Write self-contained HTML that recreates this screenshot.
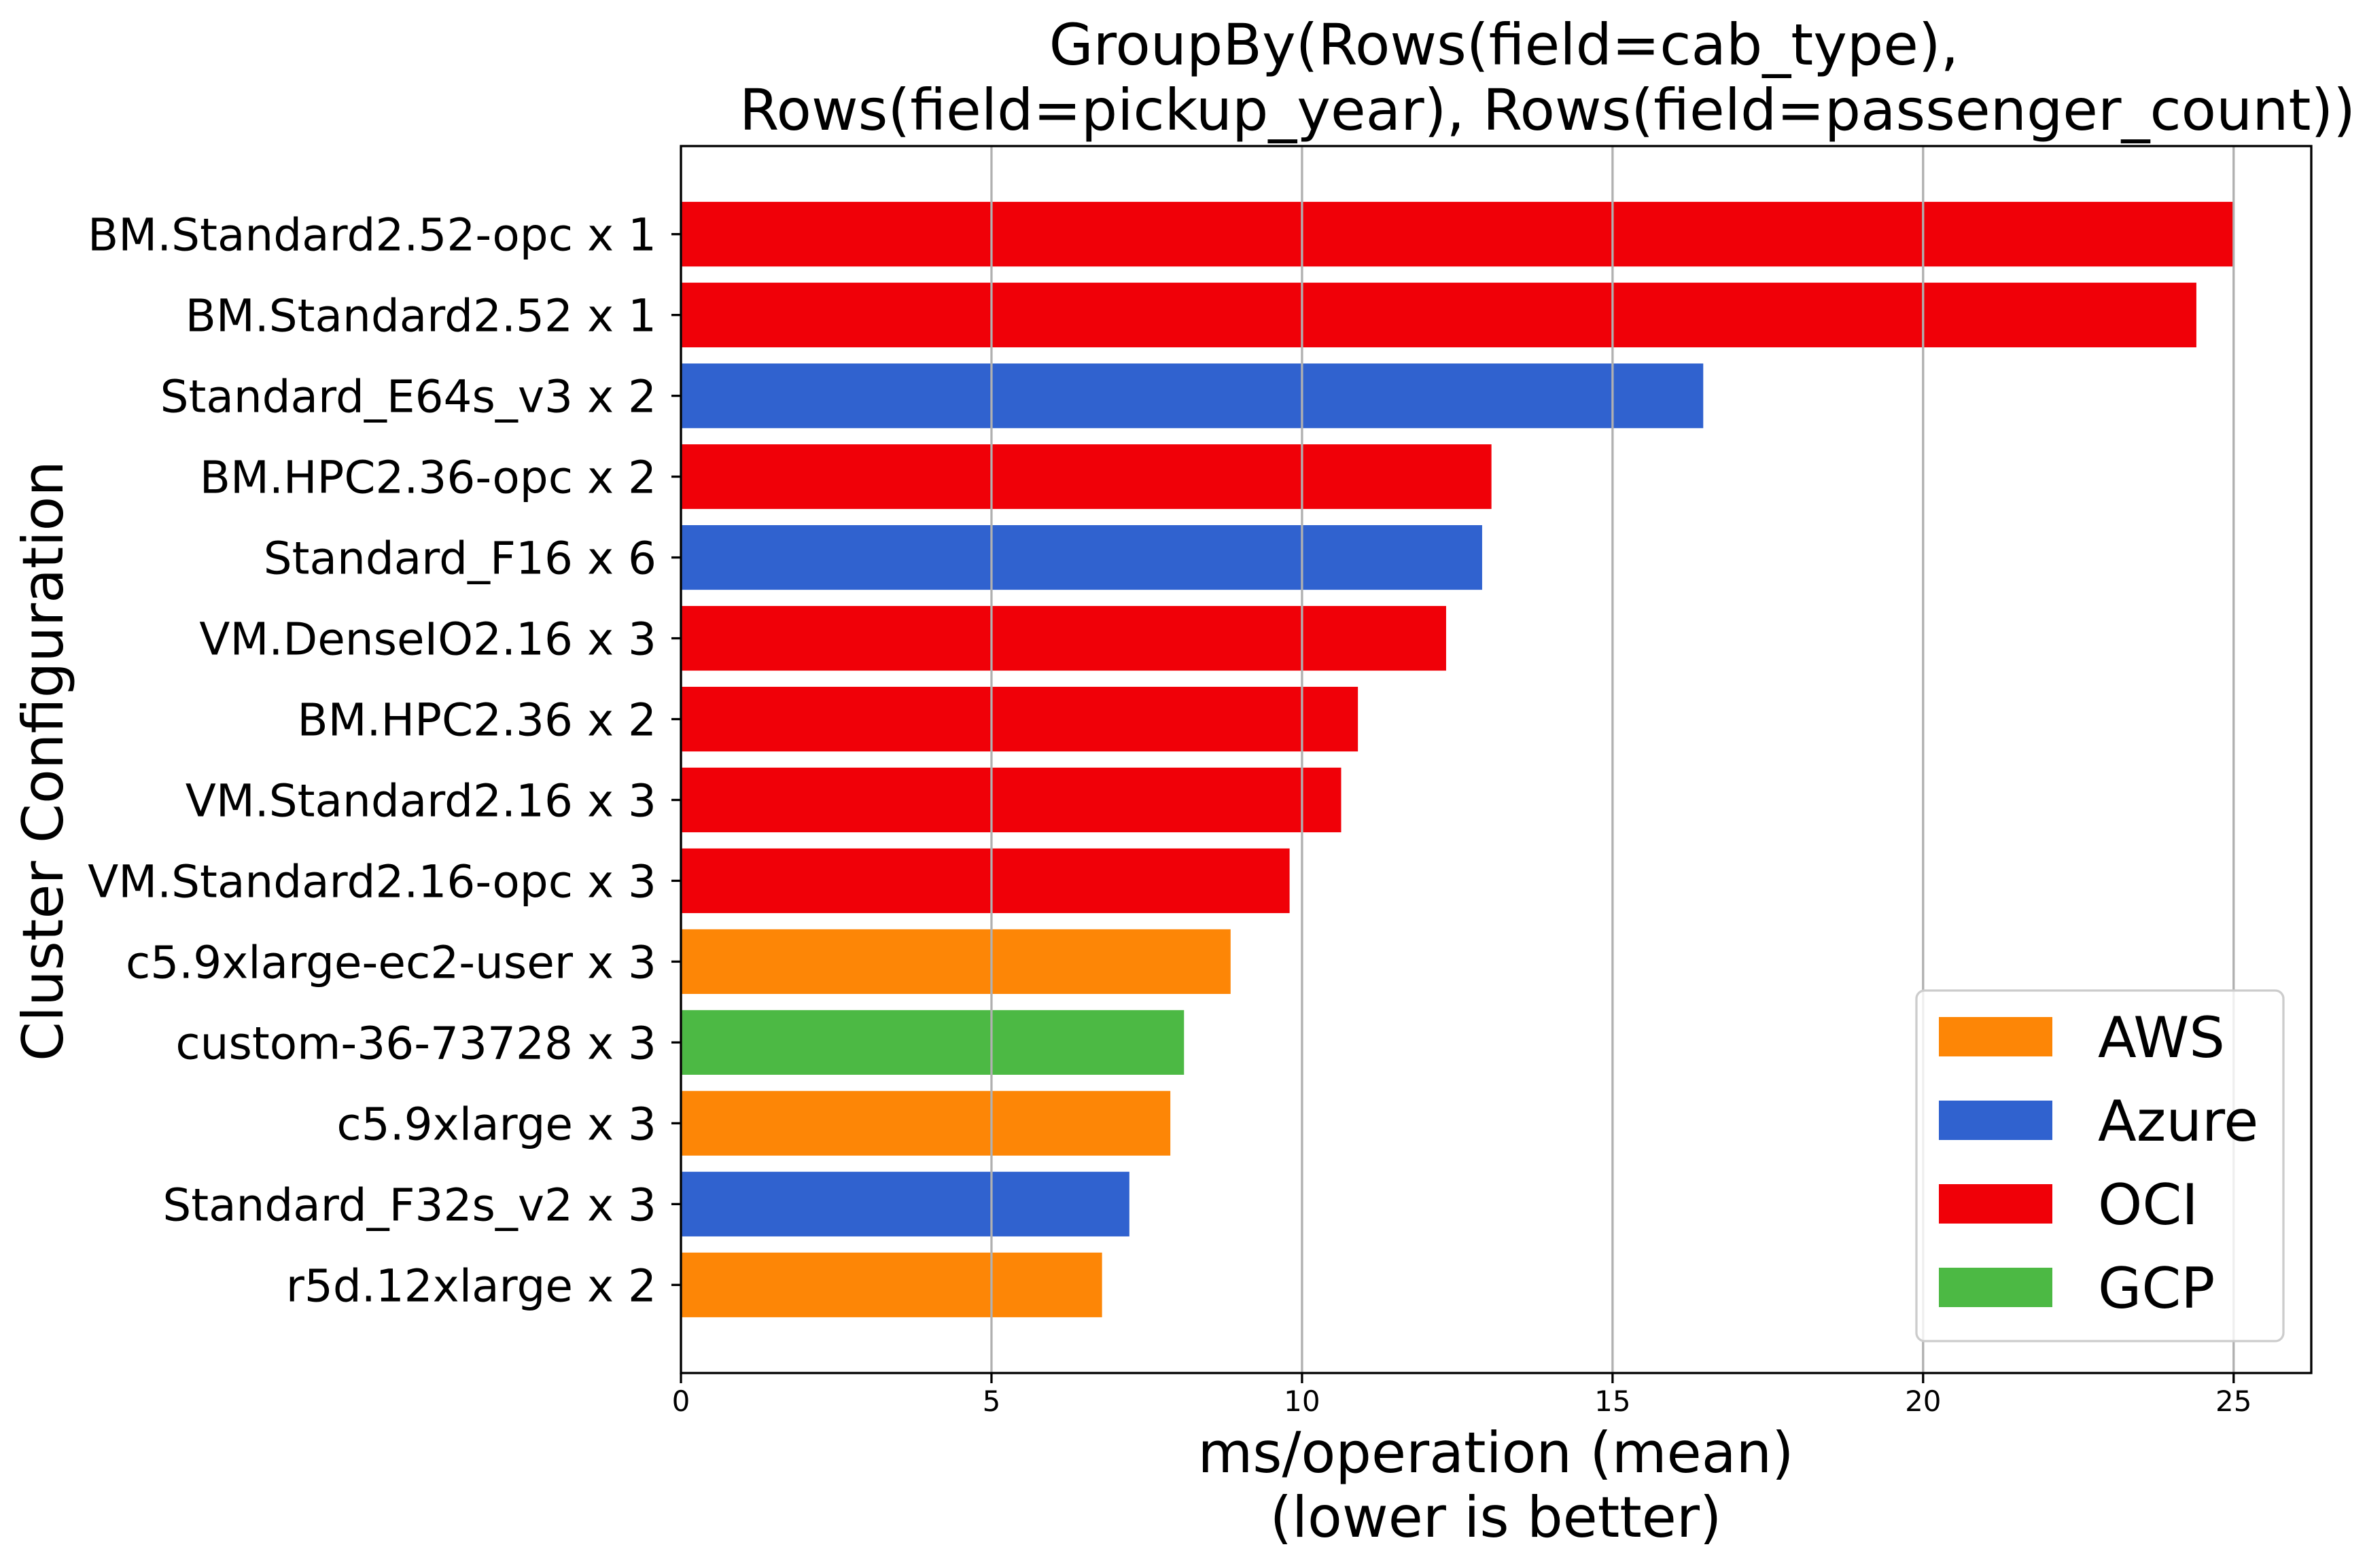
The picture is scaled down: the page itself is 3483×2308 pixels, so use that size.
<!DOCTYPE html>
<html><head><meta charset="utf-8"><style>
html,body{margin:0;padding:0;background:#fff;}
svg{display:block;font-family:"DejaVu Sans","Liberation Sans",sans-serif;}
</style></head><body>
<svg id="chart" width="3483" height="2308" viewBox="0 0 3483 2308" xmlns="http://www.w3.org/2000/svg">
<rect width="3483" height="2308" fill="#fff"/>
<text x="2213" y="95" font-size="84" text-anchor="middle">GroupBy(Rows(field=cab_type),</text>
<text x="2277" y="191" font-size="84" text-anchor="middle">Rows(field=pickup_year), Rows(field=passenger_count))</text>
<g id="grid"></g><g id="bars"></g><g id="gridtop"></g>
<text x="2201" y="2167" font-size="83" text-anchor="middle">ms/operation (mean)</text>
<text x="2201" y="2262" font-size="83" text-anchor="middle">(lower is better)</text>
<text transform="translate(92,1120) rotate(-90)" font-size="83" text-anchor="middle">Cluster Configuration</text>
<g id="axes"></g>
<g id="legend"></g>
</svg>
<script>
const categories = ["BM.Standard2.52-opc x 1","BM.Standard2.52 x 1","Standard_E64s_v3 x 2","BM.HPC2.36-opc x 2","Standard_F16 x 6","VM.DenseIO2.16 x 3","BM.HPC2.36 x 2","VM.Standard2.16 x 3","VM.Standard2.16-opc x 3","c5.9xlarge-ec2-user x 3","custom-36-73728 x 3","c5.9xlarge x 3","Standard_F32s_v2 x 3","r5d.12xlarge x 2"];
const values = [25.0,24.4,16.46,13.05,12.9,12.32,10.9,10.63,9.8,8.85,8.1,7.88,7.22,6.78];
const providers = ["OCI","OCI","Azure","OCI","Azure","OCI","OCI","OCI","OCI","AWS","GCP","AWS","Azure","AWS"];
const xTicks = [0,5,10,15,20,25];
const legendNames = ["AWS","Azure","OCI","GCP"];
const colors = {AWS:"#fd8606",Azure:"#3062cf",OCI:"#f00008",GCP:"#4cb944"};

const NS="http://www.w3.org/2000/svg";
const L=1002,R=3401,T=215,B=2021;
const xMax=Math.max(...values)*1.05;
function xs(v){return L+v/xMax*(R-L);}
function ys(i){return T+(i+1.09)/(categories.length-1+2.18)*(B-T);}
const unitY=(B-T)/(categories.length-1+2.18);
function mk(tag,attrs,parent){const e=document.createElementNS(NS,tag);for(const k in attrs)e.setAttribute(k,attrs[k]);parent.appendChild(e);return e;}
const bars=document.getElementById('bars'),gridtop=document.getElementById('gridtop'),axes=document.getElementById('axes'),legend=document.getElementById('legend');
categories.forEach((c,i)=>{
  const cy=ys(i),h=unitY*0.8;
  const r=mk('rect',{x:L,y:cy-h/2,width:xs(values[i])-L,height:h,fill:colors[providers[i]]},bars);
  
  
  const t=mk('text',{x:966,y:cy+24,'font-size':66,'text-anchor':'end'},axes);
  t.textContent=c;
  
  
  const tk=mk('line',{x1:988,x2:L,y1:cy,y2:cy,stroke:'#000','stroke-width':3.3},axes);
  
  
});
xTicks.forEach(v=>{
  const x=xs(v);
  const g=mk('line',{x1:x,x2:x,y1:T,y2:B,stroke:'#b0b0b0','stroke-width':3.3},gridtop);
  
  
  const tk=mk('line',{x1:x,x2:x,y1:B,y2:B+15,stroke:'#000','stroke-width':3.3},axes);
  
  
  const t=mk('text',{x:x,y:2077,'font-size':42,'text-anchor':'middle'},axes);
  t.textContent=String(v);
  
  
});
const frame=mk('rect',{x:L,y:T,width:R-L,height:B-T,fill:'none',stroke:'#000','stroke-width':3.3},axes);


const box=mk('rect',{x:2820,y:1458,width:540,height:516,rx:12,fill:'#fff','fill-opacity':0.8,stroke:'#cccccc','stroke-width':3.3},legend);


legendNames.forEach((n,i)=>{
  const cy=1526+i*123;
  const p=mk('rect',{x:2853,y:cy-29,width:167,height:58,fill:colors[n]},legend);
  
  
  const t=mk('text',{x:3087,y:cy+30,'font-size':83},legend);
  t.textContent=n;
  
  
});
</script>
</body></html>
